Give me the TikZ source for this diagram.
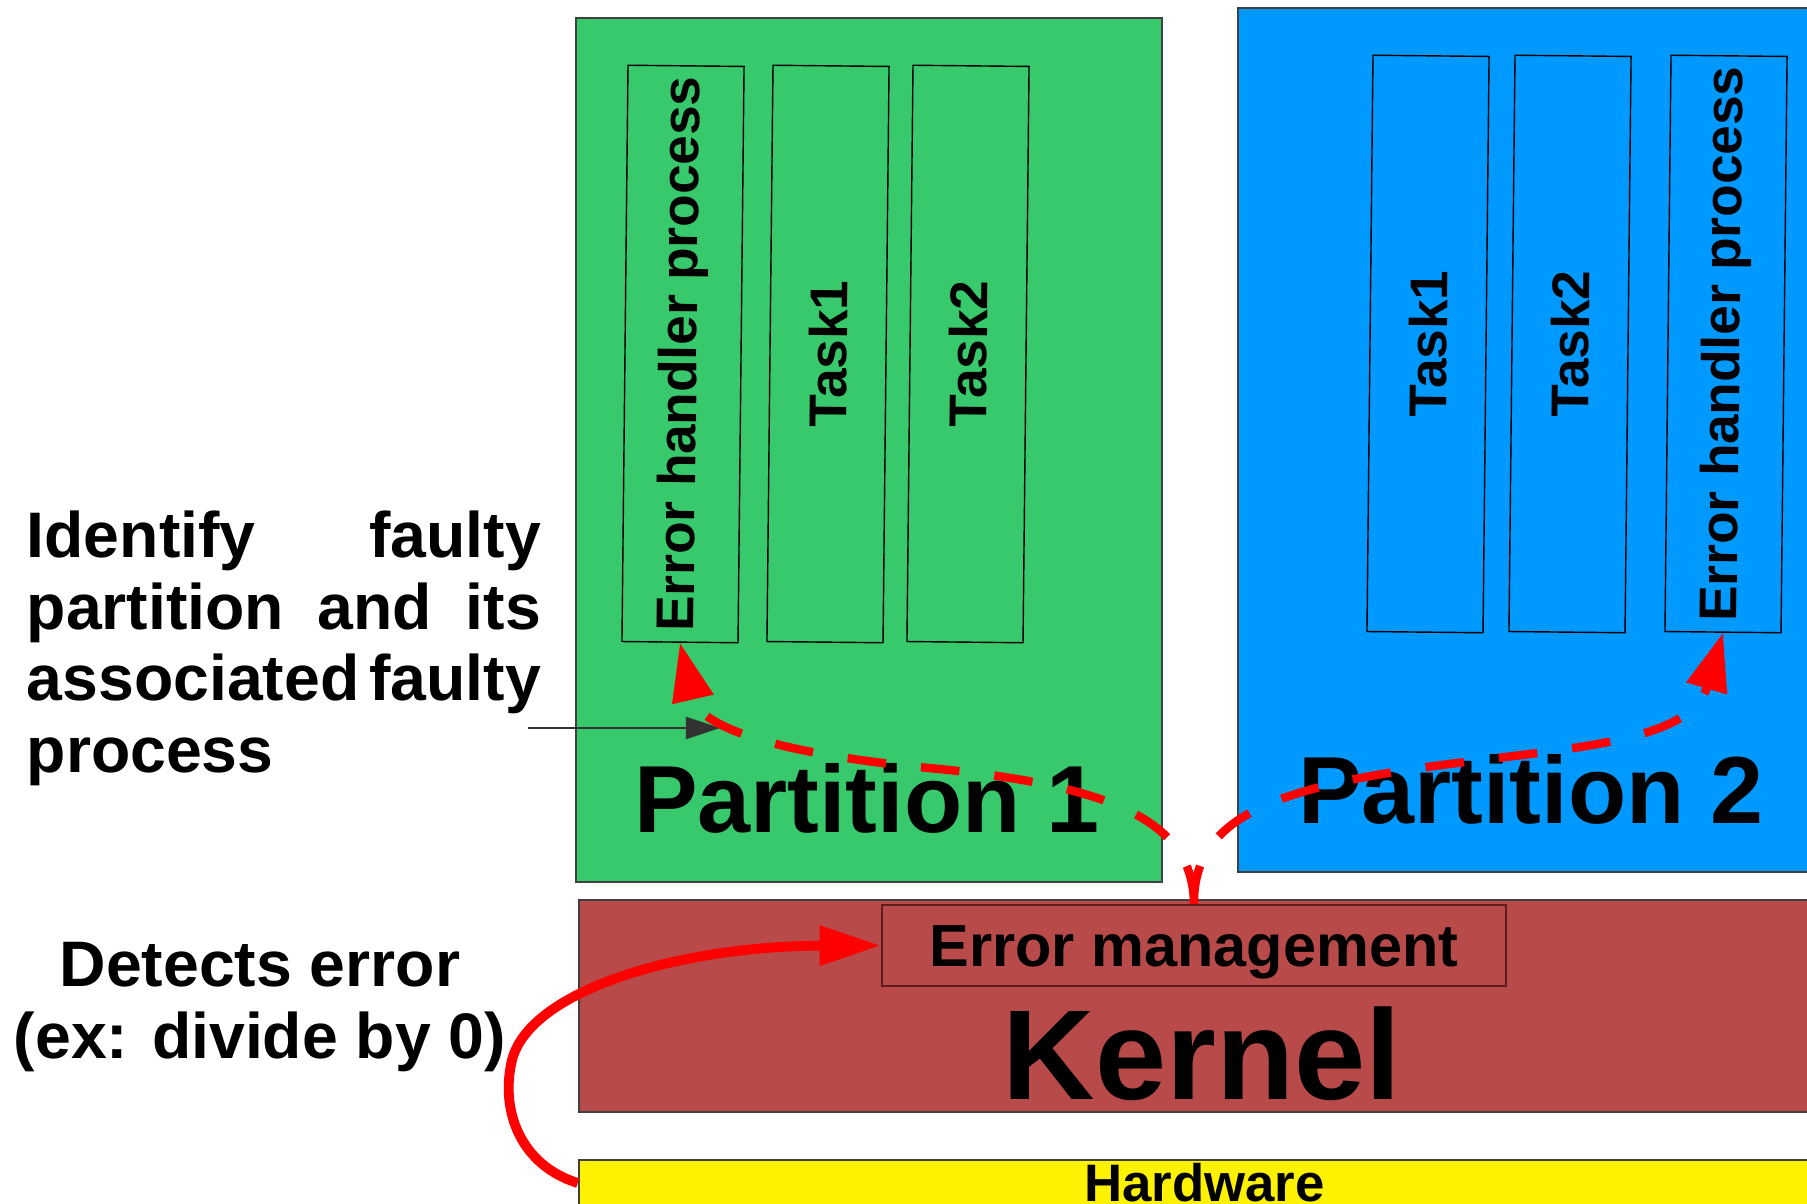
\documentclass[tikz,border=0pt]{standalone}
\usepackage{fontspec}
\setmainfont{Liberation Sans}
\usepackage{tikz}
\usetikzlibrary{arrows.meta}

\definecolor{partgreen}{HTML}{37C96B}
\definecolor{partblue}{HTML}{0099FF}
\definecolor{kernred}{HTML}{B84A4A}
\definecolor{emborder}{HTML}{5E1C1C}

\begin{document}
\begin{tikzpicture}[x=0.01cm, y=-0.01cm,
    every node/.style={inner sep=0pt, font=\bfseries},
    box/.style={draw=black!75, line width=0.5pt},
    task/.style={draw=black, line width=0.4pt, rotate=89.4,
                 minimum width=5.76cm, minimum height=1.16cm,
                 font=\bfseries\fontsize{15.1}{18}\selectfont},
    big/.style={anchor=base, font=\bfseries\fontsize{27.1}{30}\selectfont},
    note/.style={font=\bfseries\fontsize{18.3}{20.4}\selectfont},
    flow/.style={draw=red, line width=2.4pt, dash pattern=on 11pt off 10pt,
                 -{Triangle[length=16.5pt, width=11.5pt]}}]

    \useasboundingbox (0,0) rectangle (1807,1204);

    % partitions, kernel, hardware
    \node[box, fill=partgreen, minimum width=5.86cm, minimum height=8.64cm] (p1) at (869,450) {};
    \node[box, fill=partblue, minimum width=5.92cm, minimum height=8.64cm] (p2) at (1534,440) {};
    \node[box, fill=kernred, minimum width=12.51cm, minimum height=2.12cm] (k) at (1204.5,1006) {};
    \node[box, fill=yellow, minimum width=12.51cm, minimum height=0.46cm,
          text height=0.375cm, text depth=0pt,
          font=\bfseries\fontsize{15}{18}\selectfont] (hw) at (1204.5,1183) {Hardware};
    \node[draw=emborder, line width=0.6pt, minimum width=6.24cm, minimum height=0.81cm,
          text height=0.424cm, text depth=0pt,
          font=\bfseries\fontsize{16.9}{19}\selectfont] (em) at (1194,945.5) {Error management};

    % processes
    \foreach \n/\x/\y/\t in {eh1/683/354/Error handler process, t11/828/354/Task1,
                              t12/968/354/Task2, t21/1428/344/Task1,
                              t22/1570/344/Task2, eh2/1726/344/Error handler process} {
            \node[task] (\n) at (\x,\y) {\t};
        }

    \node[big] (p1lbl) at (867,832) {Partition 1};
    \node[big] (p2lbl) at (1531,823) {Partition 2};
    \node[anchor=base, font=\bfseries\fontsize{36.4}{40}\selectfont] (klbl) at (1202,1099) {Kernel};

    % notes on the left
    \node[note, anchor=north west, text width=5.14cm, align=justify] (ident) at (26,510)
        {Identify\hfill faulty\\ partition\hfill and\hfill its\\ associated\hfill faulty\\ process};
    \node[note, anchor=north, align=center] (det) at (260,942) {Detects error\\(ex: divide by 0)};

    \coordinate (src) at (528,728);
    \coordinate (pt) at (720,728);
    \draw[black!80, line width=0.5pt, -{Triangle[length=9.7pt, width=6.3pt]}] (src) -- (pt);

    % error paths
    \draw[red, line width=2.8pt, -{Triangle[length=17.4pt, width=10.8pt]}]
        (hw.west) .. controls (520,1165) and (500,1110) .. (512,1060)
                  .. controls (530,990) and (680,946) .. (em.west);
    \draw[flow] (em.north) .. controls (1193,820) and (1110,785) .. (929,768)
                           .. controls (790,755) and (700,730) .. (eh1.west);
    \draw[flow] (em.north) .. controls (1193,820) and (1270,790) .. (1420,768)
                           .. controls (1560,748) and (1690,745) .. (eh2.west);
\end{tikzpicture}
\end{document}
